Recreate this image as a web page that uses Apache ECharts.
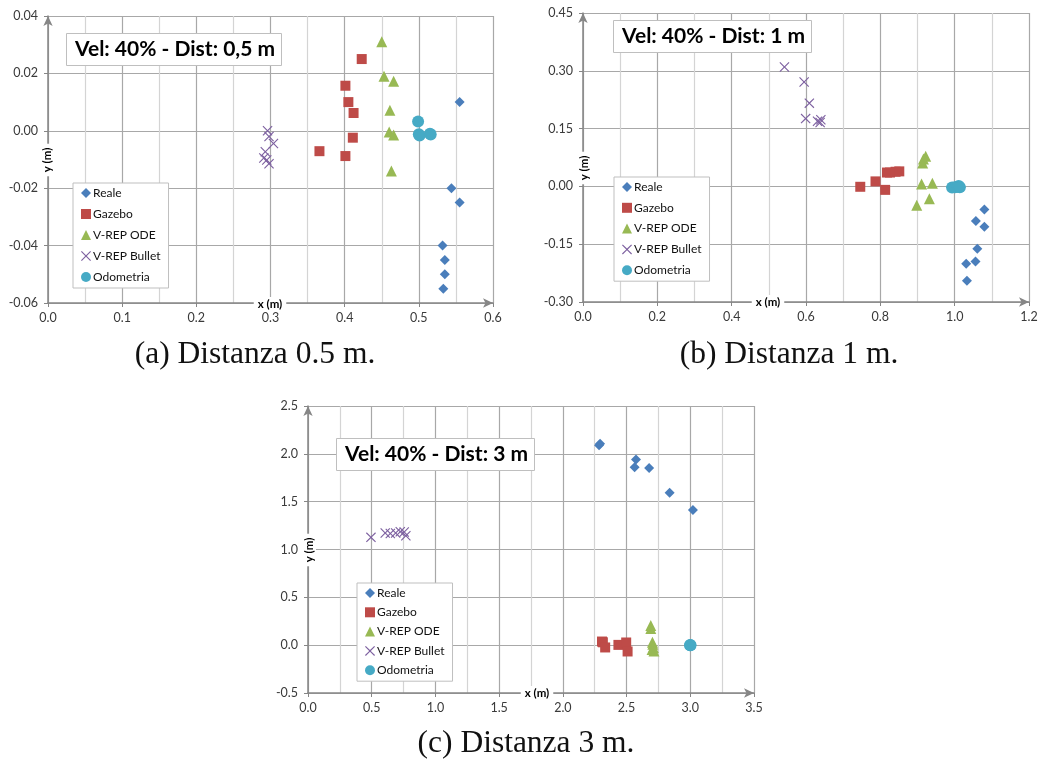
<!DOCTYPE html>
<html><head><meta charset="utf-8">
<script src="https://cdn.jsdelivr.net/npm/echarts@6/dist/echarts.min.js"></script>
<style>html,body{margin:0;padding:0;background:#fff}#c{width:1038px;height:762px}</style>
</head><body><div id="c"></div>
<script>
// ---------- data ----------
const seriesNames = ['Reale', 'Gazebo', 'V-REP ODE', 'V-REP Bullet', 'Odometria'];

// (a) Distanza 0.5 m
const a_reale = [[0.555,0.010],[0.544,-0.020],[0.555,-0.025],[0.532,-0.040],[0.535,-0.045],[0.535,-0.050],[0.533,-0.055]];
const a_gazebo = [[0.423,0.025],[0.401,0.0157],[0.405,0.010],[0.412,0.0062],[0.411,-0.0024],[0.366,-0.0071],[0.401,-0.0088]];
const a_ode = [[0.450,0.031],[0.453,0.019],[0.466,0.0173],[0.461,0.0072],[0.460,-0.0004],[0.466,-0.0015],[0.463,-0.014]];
const a_bullet = [[0.296,0.000],[0.298,-0.002],[0.304,-0.0044],[0.293,-0.0073],[0.291,-0.0095],[0.295,-0.0102],[0.298,-0.0115]];
const a_odom = [[0.499,0.0032],[0.500,-0.0012],[0.501,-0.0016],[0.515,-0.0010],[0.516,-0.0013]];

// (b) Distanza 1 m
const b_reale = [[1.080,-0.060],[1.057,-0.090],[1.080,-0.105],[1.061,-0.162],[1.056,-0.195],[1.031,-0.201],[1.033,-0.245]];
const b_gazebo = [[0.746,-0.001],[0.787,0.013],[0.813,-0.009],[0.818,0.036],[0.826,0.036],[0.841,0.038],[0.851,0.039]];
const b_ode = [[0.898,-0.049],[0.911,0.006],[0.940,0.008],[0.932,-0.032],[0.914,0.061],[0.916,0.071],[0.922,0.078]];
const b_bullet = [[0.542,0.310],[0.595,0.271],[0.609,0.216],[0.599,0.176],[0.631,0.169],[0.640,0.173],[0.638,0.166]];
const b_odom = [[0.993,-0.003],[1.001,-0.002],[1.008,-0.001],[1.011,0.001],[1.014,-0.002]];

// (c) Distanza 3 m
const c_reale = [[2.284,2.089],[2.292,2.106],[2.574,1.942],[2.563,1.860],[2.677,1.851],[2.838,1.592],[3.021,1.412]];
const c_gazebo = [[2.307,0.038],[2.314,0.030],[2.332,-0.024],[2.436,0.003],[2.497,0.028],[2.508,-0.066]];
const c_ode = [[2.690,0.205],[2.690,0.175],[2.703,0.030],[2.706,0.010],[2.710,-0.025],[2.715,-0.060],[2.700,-0.045]];
const c_bullet = [[0.494,1.127],[0.606,1.172],[0.646,1.168],[0.688,1.172],[0.724,1.186],[0.755,1.183],[0.768,1.143]];
const c_odom = [[2.998,0.000],[3.000,0.002],[3.002,-0.001]];

// axis settings (ticks)
const a_x = {min:0, max:0.6, interval:0.1, dec:1};
const a_y = {min:-0.06, max:0.04, interval:0.02, dec:2};
const b_x = {min:0, max:1.2, interval:0.2, dec:1};
const b_y = {min:-0.30, max:0.45, interval:0.15, dec:2};
const c_x = {min:0, max:3.5, interval:0.5, dec:1};
const c_y = {min:-0.5, max:2.5, interval:0.5, dec:1};

const titles = ['Vel: 40% - Dist: 0,5 m', 'Vel: 40% - Dist: 1 m', 'Vel: 40% - Dist: 3 m'];
const captions = ['(a) Distanza 0.5 m.', '(b) Distanza 1 m.', '(c) Distanza 3 m.'];

// ---------- styles ----------
const colors = ['#4A7EBB', '#BE4B48', '#98B954', '#7D60A0', '#46AAC5'];
const crossPath = 'path://M0,0.8 L0.8,0 L5,4.2 L9.2,0 L10,0.8 L5.8,5 L10,9.2 L9.2,10 L5,5.8 L0.8,10 L0,9.2 L4.2,5 Z';
const symbols = ['diamond', 'rect', 'triangle', crossPath, 'circle'];
const sizes = [[10,10], 10, 11, 10, 12];
const FONT = 'Lato';
const AXC = '#868686';

const grids = [
  {left:48, top:16, width:445, height:287},
  {left:583, top:13, width:446, height:289},
  {left:308, top:406, width:446, height:287}
];

function xAxisOf(s, gi) {
  return {
    type:'value', gridIndex:gi, min:s.min, max:s.max, interval:s.interval,
    axisLine:{show:true, onZero:false, symbol:['none','arrow'], symbolSize:[7,10], lineStyle:{color:AXC, width:1.5}},
    axisTick:{show:true, length:4, lineStyle:{color:AXC}},
    axisLabel:{color:'#3a3a3a', fontFamily:FONT, fontSize:12.5, margin:8, formatter:v => v.toFixed(s.dec)},
    splitLine:{show:true, lineStyle:{color:'#a8a8a8', width:1.2}},
    minorTick:{show:false, splitNumber:2},
    minorSplitLine:{show:true, lineStyle:{color:'#d4d4d4', width:1.2}}
  };
}
function yAxisOf(s, gi) {
  return {
    type:'value', gridIndex:gi, min:s.min, max:s.max, interval:s.interval,
    axisLine:{show:true, onZero:false, symbol:['none','arrow'], symbolSize:[7,10], lineStyle:{color:AXC, width:1.5}},
    axisTick:{show:true, length:4, lineStyle:{color:AXC}},
    axisLabel:{color:'#3a3a3a', fontFamily:FONT, fontSize:12.5, margin:10, formatter:v => v.toFixed(s.dec)},
    splitLine:{show:true, lineStyle:{color:'#a8a8a8', width:1.2}}
  };
}

const dataSets = [
  [a_reale, a_gazebo, a_ode, a_bullet, a_odom],
  [b_reale, b_gazebo, b_ode, b_bullet, b_odom],
  [c_reale, c_gazebo, c_ode, c_bullet, c_odom]
];
const series = [];
dataSets.forEach((sets, gi) => {
  sets.forEach((d, k) => {
    series.push({
      type:'scatter', name:seriesNames[k], xAxisIndex:gi, yAxisIndex:gi,
      data:d, symbol:symbols[k], symbolSize:sizes[k],
      itemStyle:{color:colors[k], opacity:1},
      z: 2 + k
    });
  });
});

const legendPos = [
  {left:73, top:183, itemGap:9, pad:[4,8,5,8]},
  {left:614, top:177, itemGap:8.8, pad:[4,8,5,8]},
  {left:357, top:583, itemGap:7.3, pad:[4,8,5,8]}
];
const legends = legendPos.map(p => ({
  data:seriesNames, orient:'vertical', left:p.left, top:p.top, itemGap:p.itemGap,
  itemWidth:10, itemHeight:10, padding:p.pad,
  backgroundColor:'#fff', borderColor:'#bfbfbf', borderWidth:1,
  textStyle:{fontFamily:FONT, fontSize:12, lineHeight:12, color:'#111', padding:[0,0,0,-3]},
  selectedMode:false
}));

const titlePos = [{left:66, top:33}, {left:613, top:20}, {left:336, top:438}];
const titleComps = titlePos.map((p, i) => ({
  text:titles[i], left:p.left, top:p.top, padding:[6,7,6,9],
  backgroundColor:'#fff', borderColor:'#bfbfbf', borderWidth:1,
  textStyle:{fontFamily:FONT, fontWeight:'bold', fontSize:21, color:'#000', lineHeight:21}
}));

const axisNames = [
  {t:'x (m)', x:270, y:304, r:0}, {t:'y (m)', x:47, y:160, r:Math.PI/2},
  {t:'x (m)', x:768, y:302, r:0}, {t:'y (m)', x:584, y:168, r:Math.PI/2},
  {t:'x (m)', x:537, y:693, r:0}, {t:'y (m)', x:309, y:550, r:Math.PI/2}
];
const capPos = [{x:255, y:355}, {x:789, y:355}, {x:526, y:744}];

const graphic = [];
axisNames.forEach(a => graphic.push({
  type:'text', x:a.x, y:a.y, rotation:a.r, z:100,
  style:{text:a.t, fill:'#000', font:'bold 11.5px ' + FONT, align:'center', verticalAlign:'middle',
         backgroundColor:'#fff', padding:[1,4]}
}));
capPos.forEach((c, i) => graphic.push({
  type:'text', x:c.x, y:c.y, z:100,
  style:{text:captions[i], fill:'#111', font:'31.5px "Liberation Serif"', align:'center', verticalAlign:'middle'}
}));

const chart = echarts.init(document.getElementById('c'), null, {renderer:'canvas'});
chart.setOption({
  animation:false,
  backgroundColor:'#fff',
  title:titleComps,
  legend:legends,
  grid:grids.map(g => Object.assign({outerBoundsMode:'none', containLabel:false}, g)),
  xAxis:[xAxisOf(a_x,0), xAxisOf(b_x,1), xAxisOf(c_x,2)],
  yAxis:[yAxisOf(a_y,0), yAxisOf(b_y,1), yAxisOf(c_y,2)],
  series:series,
  graphic:graphic
});
</script></body></html>
